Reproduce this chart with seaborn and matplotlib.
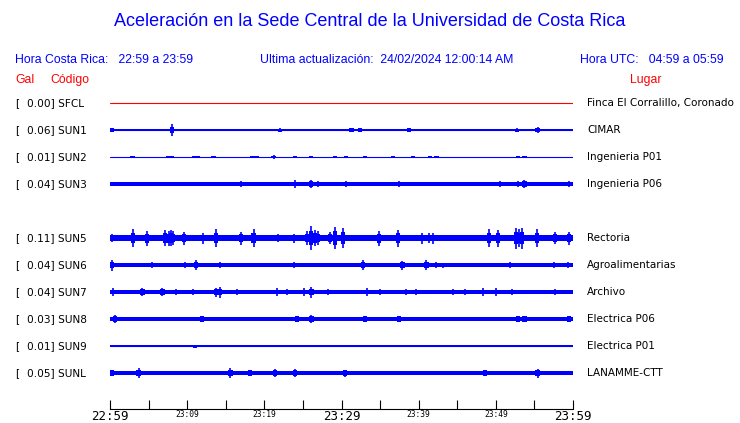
import numpy as np
import pandas as pd
import matplotlib
matplotlib.use("Agg")
import matplotlib.pyplot as plt
import seaborn as sns

# ---------------- data ----------------
codes = ["SFCL", "SUN1", "SUN2", "SUN3", "SUN5", "SUN6", "SUN7", "SUN8", "SUN9", "SUNL"]
places = ["Finca El Corralillo, Coronado", "CIMAR", "Ingenieria P01", "Ingenieria P06",
          "Rectoria", "Agroalimentarias", "Archivo", "Electrica P06", "Electrica P01",
          "LANAMME-CTT"]
pga_gal = [0.00, 0.06, 0.01, 0.04, 0.11, 0.04, 0.04, 0.03, 0.01, 0.05]
# background noise half-amplitude of each trace (pixels)
base_amp = [0.5, 1.3, 0.5, 1.6, 2.8, 1.7, 1.8, 2.0, 0.9, 2.2]

# bursts: (minute after 22:59, half amplitude in pixels)
sun1_min = [0.2, 8.0, 22.0, 31.3, 32.4, 38.75, 44.7, 52.75, 55.4]
sun1_amp = [2.0, 5.7, 1.5, 2.0, 1.8, 1.7, 1.4, 1.5, 3.0]
sun2_min = [2.9, 7.5, 8.0, 10.9, 11.4, 13.4, 18.4, 19.0, 21.2, 24.0, 26.0, 29.2, 30.6,
            33.0, 36.7, 39.3, 41.5, 42.3, 52.9, 53.7]
sun2_amp = [1.2, 1.0, 1.3, 1.0, 1.2, 1.0, 1.2, 1.0, 1.6, 1.2, 1.2, 1.0, 1.2,
            1.2, 1.0, 1.2, 1.0, 1.0, 1.2, 1.2]
sun3_min = [3.0, 8.0, 12.0, 17.0, 24.0, 26.0, 26.9, 29.5, 30.6, 34.8, 37.5, 50.6, 52.9, 53.7, 59.5]
sun3_amp = [2.2, 2.4, 2.4, 2.7, 3.7, 4.4, 2.7, 2.0, 3.3, 2.3, 2.7, 3.3, 3.0, 4.4, 2.7]
sun5_min = [0.2, 3.0, 4.8, 7.1, 7.6, 7.9, 8.2, 9.6, 12.0, 13.7, 17.0, 18.6, 21.8, 23.8,
            25.5, 26.0, 26.6, 27.0, 28.5, 29.2, 30.2, 34.9, 37.3, 40.4, 41.3, 41.9,
            49.1, 50.3, 52.6, 53.0, 53.4, 55.3, 57.7, 59.5]
sun5_amp = [4.0, 9.0, 7.5, 8.0, 7.5, 8.0, 7.0, 6.5, 5.5, 9.0, 6.5, 8.7, 3.7, 4.5,
            7.0, 12.0, 8.0, 7.0, 6.0, 11.0, 10.0, 7.5, 8.5, 5.5, 5.0, 5.5,
            9.0, 8.5, 10.5, 9.0, 10.5, 9.0, 6.0, 6.5]
sun6_min = [0.3, 5.4, 9.7, 11.1, 14.2, 23.8, 32.8, 37.9, 41.0, 42.3, 43.2, 51.8, 57.5, 59.4]
sun6_amp = [5.5, 3.0, 3.3, 5.0, 3.0, 3.0, 5.0, 4.5, 5.0, 2.7, 2.5, 3.0, 3.0, 3.0]
sun7_min = [0.4, 4.2, 6.8, 8.6, 10.8, 13.7, 14.3, 16.4, 21.6, 22.9, 25.1, 26.1, 28.2,
            33.3, 35.0, 38.4, 39.7, 44.5, 46.0, 48.4, 50.0, 52.1, 57.7]
sun7_amp = [3.7, 4.2, 4.2, 3.0, 3.0, 4.5, 5.5, 3.0, 3.7, 3.3, 4.0, 5.5, 3.0,
            3.7, 3.0, 3.3, 3.0, 3.0, 3.0, 4.0, 3.7, 3.0, 3.0]
sun8_min = [0.6, 11.9, 24.2, 26.1, 33.0, 37.5, 52.9, 53.7, 59.5]
sun8_amp = [4.0, 3.0, 3.3, 4.0, 3.3, 3.0, 3.3, 3.3, 2.7]
sun9_min = [11.0, 16.8, 26.0, 39.0, 59.4]
sun9_amp = [1.5, 1.4, 1.3, 1.3, 1.4]
sunl_min = [0.2, 3.7, 15.6, 18.1, 21.4, 24.0, 30.5, 48.6, 55.4]
sunl_amp = [3.0, 5.3, 5.0, 3.3, 3.7, 3.7, 3.5, 3.0, 4.5]

burst_min = [[], sun1_min, sun2_min, sun3_min, sun5_min, sun6_min, sun7_min, sun8_min, sun9_min, sunl_min]
burst_amp = [[], sun1_amp, sun2_amp, sun3_amp, sun5_amp, sun6_amp, sun7_amp, sun8_amp, sun9_amp, sunl_amp]

tick_minutes = list(range(0, 61, 5))
tick_labels = ["22:59", "", "23:09", "", "23:19", "", "23:29", "", "23:39", "", "23:49", "", "23:59"]
window_minutes = [0, 60]

title = "Aceleración en la Sede Central de la Universidad de Costa Rica"
hdr_local = "Hora Costa Rica:   22:59 a 23:59"
hdr_update = "Ultima actualización:  24/02/2024 12:00:14 AM"
hdr_utc = "Hora UTC:   04:59 a 05:59"

# ---------------- figure ----------------
sns.set_theme(style="white")
plt.rcParams["font.family"] = ["DejaVu Sans"]

W, H = 740, 423
fig = plt.figure(figsize=(W / 100, H / 100), dpi=100)
fig.patch.set_facecolor("white")

def fx(px):
    return px / W

def fy(py):
    return 1 - py / H

ax_left, ax_right, ax_top, ax_bottom = 110, 573, 90, 409
ax = fig.add_axes([fx(ax_left), fy(ax_bottom), (ax_right - ax_left) / W, (ax_bottom - ax_top) / H])
ax.set_facecolor("white")
ax.set_xlim(window_minutes[0], window_minutes[1])
ax.set_ylim(ax_bottom, ax_top)

BLUE = "#0000ff"
row_slots = [0, 1, 2, 3, 5, 6, 7, 8, 9, 10]
row_y = [103 + 27 * s for s in row_slots]

# baselines via seaborn
base_df = pd.DataFrame({
    "minute": window_minutes * len(codes),
    "y": np.repeat(row_y, 2),
    "code": np.repeat(codes, 2),
})
palette = {c: ("#ff0000" if c == "SFCL" else BLUE) for c in codes}
sns.lineplot(data=base_df, x="minute", y="y", hue="code", palette=palette,
             linewidth=0.8, legend=False, ax=ax, estimator=None, sort=False)

for i, code in enumerate(codes):
    y = row_y[i]
    if base_amp[i] > 0.6:
        ax.fill_between(window_minutes, y - base_amp[i], y + base_amp[i],
                        color=BLUE, linewidth=0)
    if burst_min[i]:
        amps = np.array(burst_amp[i])
        # burst core (wider, ~60% of the peak) and peak spike
        core = np.maximum(0.6 * amps, np.minimum(amps, base_amp[i] + 0.6))
        ax.bar(burst_min[i], 2 * core, bottom=y - core, width=0.55,
               color=BLUE, linewidth=0)
        ax.vlines(burst_min[i], y - amps, y + amps, color=BLUE, linewidth=1.2)

# axes styling
for side in ["top", "left", "right"]:
    ax.spines[side].set_visible(False)
ax.spines["bottom"].set_color("black")
ax.spines["bottom"].set_linewidth(0.8)
ax.set_yticks([])
ax.set_xticks(tick_minutes)
ax.set_xticklabels(tick_labels)
ax.tick_params(axis="x", direction="in", length=6.5, width=0.8, color="black",
               pad=1, bottom=True)
ax.set_xlabel("")
ax.set_ylabel("")
for lbl, txt in zip(ax.get_xticklabels(), tick_labels):
    lbl.set_family("DejaVu Sans Mono")
    lbl.set_color("black")
    if txt in ("22:59", "23:29", "23:59"):
        lbl.set_fontsize(9)
    else:
        lbl.set_fontsize(5.7)
ax.grid(False)

# ---------------- texts ----------------
hfont = ["Liberation Sans", "DejaVu Sans"]
fig.text(0.5, fy(22), title, ha="center", va="center", color=BLUE,
         fontsize=13.0, family=hfont)
fig.text(fx(15), fy(60), hdr_local, ha="left", va="center", color=BLUE, fontsize=8.8, family=hfont)
fig.text(fx(260), fy(60), hdr_update, ha="left", va="center", color=BLUE, fontsize=8.8, family=hfont)
fig.text(fx(580), fy(60), hdr_utc, ha="left", va="center", color=BLUE, fontsize=8.8, family=hfont)
fig.text(fx(15), fy(80), "Gal", ha="left", va="center", color="#ff0000", fontsize=8.8, family=hfont)
fig.text(fx(50), fy(80), "Código", ha="left", va="center", color="#ff0000", fontsize=8.8, family=hfont)
fig.text(fx(630), fy(80), "Lugar", ha="left", va="center", color="#ff0000", fontsize=8.8, family=hfont)

for i, code in enumerate(codes):
    y = row_y[i]
    fig.text(fx(15), fy(y), "[", ha="left", va="center", color="black", fontsize=7.6)
    fig.text(fx(27), fy(y), f"{pga_gal[i]:.2f}] {code}", ha="left", va="center",
             color="black", fontsize=7.6)
    fig.text(fx(587), fy(y), places[i], ha="left", va="center", color="black", fontsize=7.5)

fig.savefig("out.png", dpi=100, facecolor="white")
